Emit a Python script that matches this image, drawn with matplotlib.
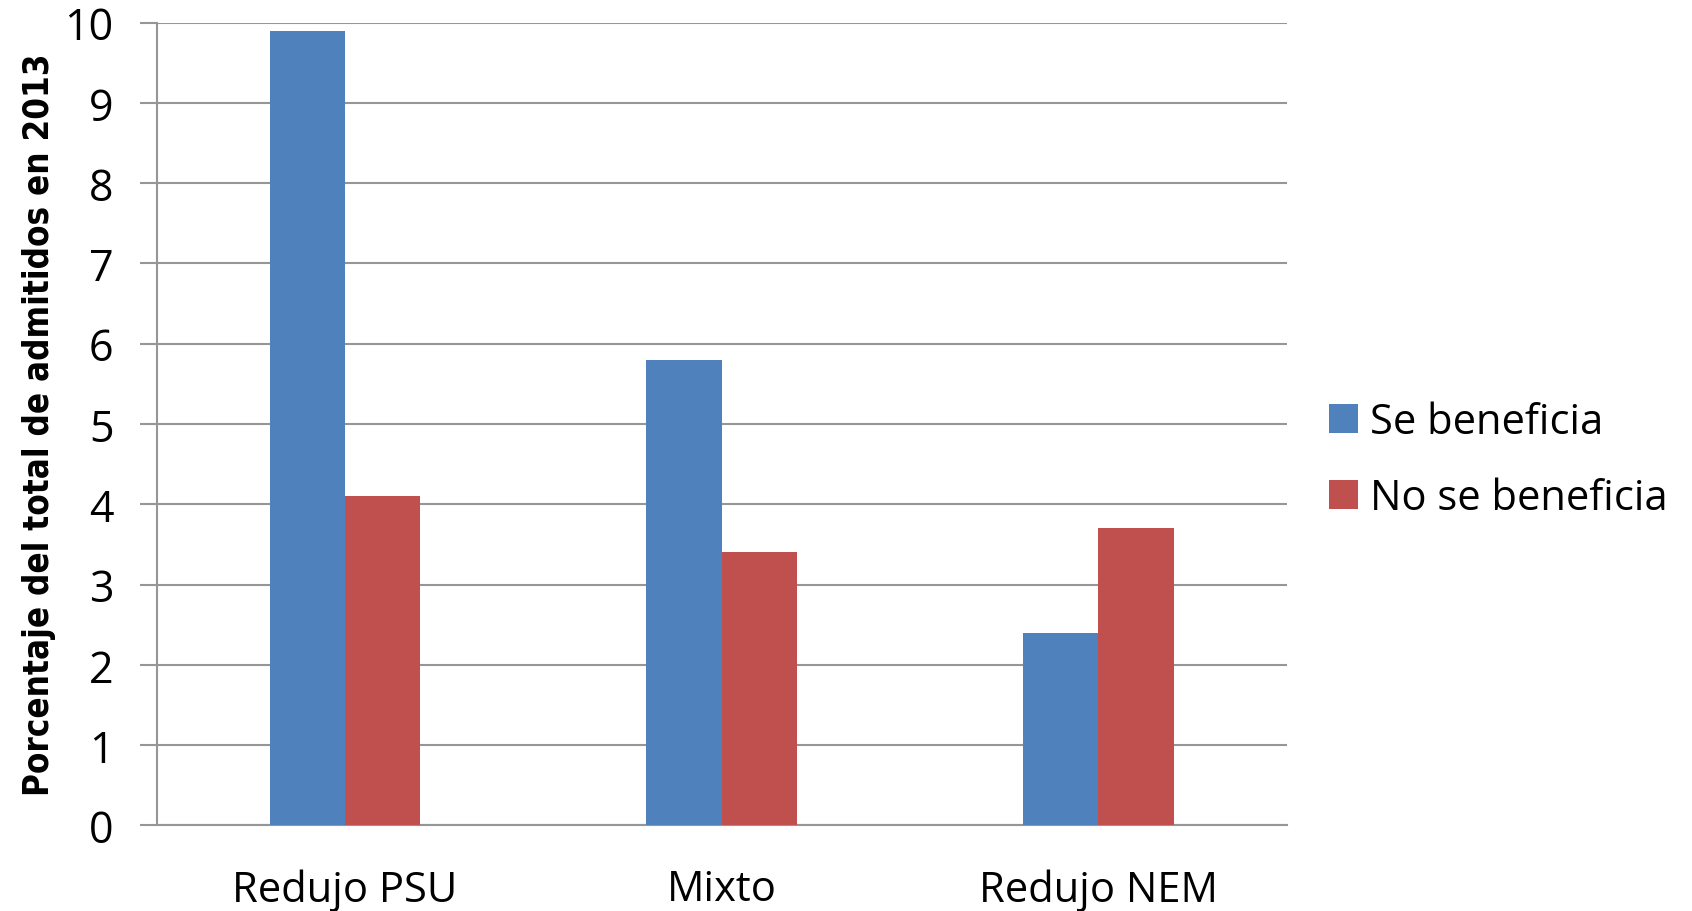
import matplotlib
matplotlib.use("Agg")
import matplotlib.pyplot as plt
import numpy as np

# Datos
categorias = ["Redujo PSU", "Mixto", "Redujo NEM"]
se_beneficia = [9.9, 5.8, 2.4]
no_se_beneficia = [4.1, 3.4, 3.7]
series = ["Se beneficia", "No se beneficia"]
yticks = list(range(0, 11))

plt.rcParams["font.family"] = ["Open Sans", "DejaVu Sans"]

fig = plt.figure(figsize=(16.92, 9.12), dpi=100)
ax = fig.add_axes([0.0925, 0.094, 0.668, 0.880])

x = np.arange(len(categorias))
ancho = 0.2
ax.bar(x - ancho / 2, se_beneficia, ancho, color="#4F81BD", label=series[0], zorder=3)
ax.bar(x + ancho / 2, no_se_beneficia, ancho, color="#C0504D", label=series[1], zorder=3)

ax.set_xlim(-0.5, len(categorias) - 0.5)
ax.set_ylim(0, 10)
ax.set_yticks(yticks)
ax.set_xticks(x)
ax.set_xticklabels(categorias)

# Grilla y ejes al estilo Excel
ax.yaxis.grid(True, color="#969696", linewidth=1.5, zorder=0)
for lado in ["top", "right"]:
    ax.spines[lado].set_visible(False)
for lado in ["left", "bottom"]:
    ax.spines[lado].set_color("#969696")
    ax.spines[lado].set_linewidth(1.5)

ax.tick_params(axis="y", length=12, width=1.5, color="#969696", labelsize=31, pad=19)
ax.tick_params(axis="x", length=0, labelsize=30, pad=31)

ax.set_ylabel("Porcentaje del total de admitidos en 2013", fontsize=25,
              fontweight="bold", fontstretch="condensed", family="DejaVu Sans",
              labelpad=6)

ax.legend(loc="center left", bbox_to_anchor=(1.004, 0.455), frameon=False,
          fontsize=30, handlelength=0.7, handleheight=0.7, handletextpad=0.3,
          labelspacing=0.8)

fig.savefig("out.png", dpi=100)
